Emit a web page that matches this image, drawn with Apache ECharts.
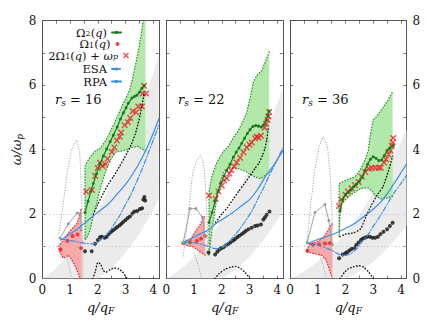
<!DOCTYPE html>
<html><head><meta charset="utf-8">
<script src="https://cdn.jsdelivr.net/npm/echarts@6/dist/echarts.min.js"></script>
<style>
html,body{margin:0;padding:0;background:#fff}
#c{width:428px;height:320px}
#c svg text, #c svg tspan{font-family:'DejaVu Serif','Liberation Serif','Noto Serif',serif !important;}
</style>
</head><body><div id="c"></div>
<script>
// ---------- tick labels ----------
const xTickLabels = ['0','1','2','3','4'];
const yTickLabels = ['0','2','4','6','8'];
const panelLabels = ['16','22','36'];
const refLevels = [1, 2];

// ---------- particle-hole continuum band (grey) ----------
const bandQ = [0,0.25,0.5,0.75,1,1.25,1.5,1.75,2,2.25,2.5,2.75,3,3.25,3.5,3.75,4,4.2];
const band16Upper = [0,0.15,0.33,0.55,0.80,1.08,1.40,1.75,2.13,2.54,2.99,3.47,3.99,4.54,5.12,5.74,6.38,6.93];
const band16Lower = [0,0,0,0,0,0,0,0,0,0.15,0.33,0.55,0.80,1.08,1.40,1.75,2.13,2.46];
const band22Upper = [0,0.13,0.28,0.47,0.68,0.92,1.19,1.49,1.81,2.17,2.55,2.96,3.40,3.87,4.36,4.89,5.44,5.90];
const band22Lower = [0,0,0,0,0,0,0,0,0,0.13,0.28,0.47,0.68,0.92,1.19,1.49,1.81,2.09];
const band36Upper = [0,0.10,0.22,0.37,0.53,0.72,0.93,1.16,1.42,1.69,1.99,2.31,2.66,3.02,3.41,3.82,4.25,4.61];
const band36Lower = [0,0,0,0,0,0,0,0,0,0.10,0.22,0.37,0.53,0.72,0.93,1.16,1.42,1.64];

// ---------- r_s = 16 ----------
const omega2_16 = [[1.54,2.05],[1.65,2.4],[1.75,2.7],[1.84,2.95],[1.95,3.25],[2.08,3.57],[2.2,3.8],[2.32,4.02],[2.45,4.25],[2.56,4.45],[2.7,4.7],[2.82,4.95],[2.92,5.14],[3.02,5.3],[3.1,5.44],[3.23,5.6],[3.32,5.65],[3.41,5.69],[3.5,5.78],[3.59,5.9],[3.67,5.98]];
const omega1_16 = [[0.66,0.9],[0.91,1.17],[1.09,1.32],[1.27,1.37],[1.4,0.95]];
const twoOmega1_16 = [[1.58,2.7],[1.79,2.75],[1.91,3.18],[2.0,3.43],[2.08,3.59],[2.17,3.49],[2.27,3.55],[2.35,3.72],[2.51,3.93],[2.6,4.07],[2.69,4.28],[2.79,4.4],[2.84,4.53],[2.97,4.76],[3.09,4.85],[3.17,4.98],[3.26,5.19],[3.38,5.16],[3.46,5.34],[3.59,5.34],[3.62,5.74],[3.74,5.74],[3.67,5.98]];
const green16Upper = [[1.54,3.5],[1.72,3.77],[1.9,3.95],[2.1,4.05],[2.3,4.3],[2.5,4.65],[2.69,5.0],[2.9,5.4],[3.05,5.65],[3.17,5.9],[3.3,6.4],[3.45,7.0],[3.55,7.5],[3.64,8.0],[3.72,8.0]];
const green16Lower = [[1.54,1.2],[1.62,1.3],[1.72,1.5],[1.84,1.95],[1.95,2.3],[2.08,2.76],[2.27,3.3],[2.45,3.67],[2.63,3.92],[2.8,3.95],[2.99,3.98],[3.23,4.07],[3.45,4.1],[3.6,4.02],[3.72,3.95]];
const red16Upper = [[0.59,0.95],[0.6,1.03],[0.76,1.19],[0.94,1.42],[1.12,1.59],[1.26,1.72],[1.34,1.95],[1.4,2.17],[1.42,2.2]];
const red16Lower = [[0.59,0.95],[0.64,0.8],[0.76,0.63],[0.94,0.73],[1.06,0.58],[1.22,0.33],[1.36,0.02],[1.42,0]];
const blackDots_16 = [[1.54,0.85],[1.78,0.85],[1.9,1.08],[2.0,1.2],[2.08,1.28],[2.15,1.3],[2.25,1.27],[2.32,1.3],[2.4,1.38],[2.48,1.45],[2.55,1.5],[2.63,1.55],[2.7,1.6],[2.78,1.65],[2.85,1.7],[2.92,1.76],[3.0,1.82],[3.08,1.88],[3.16,1.93],[3.25,2.02],[3.32,2.08],[3.42,2.1],[3.52,2.16],[3.6,2.18],[3.64,2.45],[3.71,2.42],[3.68,2.53]];
const blackDottedA_16 = [[1.84,2.0],[2.0,2.3],[2.2,2.65],[2.4,2.95],[2.56,3.16],[2.8,3.5],[3.04,3.87],[3.2,4.15],[3.35,4.48],[3.45,4.8],[3.53,5.09],[3.6,5.4],[3.67,5.74]];
const blackDottedB_16 = [[1.82,0],[1.92,0.25],[2.0,0.5],[2.1,0.45],[2.2,0.25],[2.3,0.2],[2.45,0.28],[2.6,0.33],[2.75,0.3],[2.9,0.2],[3.05,0]];
const greyDottedA_16 = [[0.6,1.4],[0.75,2.3],[0.9,3.3],[1.05,4.0],[1.24,4.3],[1.35,3.9],[1.4,3.0],[1.43,2.0],[1.45,1.0],[1.47,0]];
const greyDottedB_16 = [[0.88,0.75],[0.97,0.35],[1.06,0]];
const greySolid_16 = [[0.64,1.26],[0.94,1.7],[1.26,2.03],[1.38,2.0],[1.4,1.5]];
const rpa_16 = [[0.66,1.19],[0.9,1.33],[1.2,1.5],[1.5,1.7],[1.8,1.92],[2.1,2.12],[2.4,2.33],[2.7,2.62],[3.0,2.92],[3.3,3.3],[3.6,3.75],[3.9,4.3],[4.2,4.95]];
const esa_16 = [[0.66,1.22],[0.9,1.2],[1.2,1.15],[1.5,1.1],[1.8,1.08],[2.0,1.13],[2.2,1.28],[2.4,1.45],[2.6,1.7],[2.8,1.97],[3.0,2.3],[3.2,2.62],[3.4,3.0],[3.6,3.4],[3.8,3.85],[4.0,4.3],[4.2,4.75]];

// ---------- r_s = 22 ----------
const omega2_22 = [[1.54,1.74],[1.65,2.05],[1.76,2.4],[1.87,2.7],[1.97,2.96],[2.08,3.18],[2.18,3.36],[2.3,3.55],[2.42,3.77],[2.52,3.92],[2.62,4.05],[2.72,4.2],[2.82,4.35],[2.92,4.5],[3.02,4.62],[3.12,4.72],[3.22,4.75],[3.32,4.73],[3.42,4.7],[3.52,4.78],[3.6,4.92],[3.66,5.07],[3.7,5.2]];
const omega1_22 = [[0.61,1.1],[0.86,1.13],[1.1,1.17],[1.25,1.24],[1.4,1.32]];
const twoOmega1_22 = [[1.54,2.58],[1.78,2.48],[1.88,2.7],[2.0,2.88],[2.08,3.04],[2.18,3.11],[2.27,3.26],[2.34,3.36],[2.45,3.48],[2.54,3.6],[2.66,3.75],[2.78,3.92],[2.9,4.07],[3.0,4.15],[3.08,4.22],[3.2,4.35],[3.26,4.4],[3.32,4.38],[3.41,4.43],[3.54,4.68],[3.6,4.8],[3.65,4.93],[3.68,5.03],[3.71,5.17]];
const green22Upper = [[1.54,2.7],[1.65,3.2],[1.82,3.6],[2.06,3.95],[2.24,4.1],[2.42,4.38],[2.6,4.6],[2.75,4.85],[2.9,5.15],[3.02,5.6],[3.14,6.1],[3.26,6.3],[3.44,6.45],[3.56,6.7],[3.71,7.03]];
const green22Lower = [[1.54,0.73],[1.6,1.2],[1.7,1.8],[1.8,2.4],[1.94,3.0],[2.1,3.35],[2.3,3.45],[2.55,3.42],[2.8,3.35],[3.0,3.25],[3.2,3.15],[3.4,3.1],[3.55,3.2],[3.71,3.3]];
const red22Upper = [[0.59,1.13],[0.74,1.17],[0.86,1.19],[1.07,1.49],[1.22,1.67],[1.34,1.9],[1.4,1.95]];
const red22Lower = [[0.59,1.13],[0.74,1.03],[0.98,0.98],[1.22,0.83],[1.4,0.73]];
const blackDots_22 = [[1.52,0.81],[1.76,0.75],[1.84,0.83],[1.91,0.9],[1.98,0.94],[2.06,0.97],[2.15,1.03],[2.24,1.08],[2.32,1.13],[2.42,1.18],[2.48,1.23],[2.56,1.28],[2.63,1.33],[2.72,1.38],[2.8,1.43],[2.87,1.48],[2.96,1.53],[3.08,1.58],[3.2,1.63],[3.29,1.65],[3.41,1.68],[3.5,1.83],[3.56,1.9],[3.62,1.98],[3.72,2.08]];
const blackDottedA_22 = [[1.78,1.75],[2.0,2.0],[2.2,2.2],[2.4,2.45],[2.6,2.7],[2.8,2.93],[3.0,3.17],[3.2,3.42],[3.35,3.6],[3.48,3.85],[3.56,4.05],[3.62,4.3],[3.68,4.7]];
const blackDottedB_22 = [[1.75,0],[1.9,0.15],[2.1,0.28],[2.3,0.35],[2.5,0.38],[2.7,0.3],[2.85,0.18],[3.0,0.02]];
const greyDottedA_22 = [[0.61,0.7],[0.7,1.3],[0.8,2.05],[0.95,3.26],[1.1,3.67],[1.22,3.82],[1.34,3.62],[1.42,2.8],[1.47,1.8],[1.5,1.0]];
const greyDottedB_22 = [[1.0,0.8],[1.15,0.4],[1.28,0]];
const greySolid_22 = [[0.61,1.13],[0.86,2.17],[1.07,2.17],[1.3,1.9],[1.4,1.3]];
const rpa_22 = [[0.61,1.13],[0.9,1.25],[1.2,1.38],[1.5,1.5],[1.8,1.72],[2.1,1.88],[2.4,2.05],[2.7,2.25],[3.0,2.45],[3.3,2.78],[3.6,3.2],[3.9,3.55],[4.2,3.97]];
const esa_22 = [[0.61,1.13],[0.9,1.12],[1.2,1.08],[1.5,1.0],[1.7,0.94],[1.9,0.93],[2.1,1.02],[2.3,1.18],[2.5,1.38],[2.7,1.6],[2.9,1.85],[3.1,2.12],[3.3,2.47],[3.5,2.8],[3.7,3.18],[3.9,3.52],[4.2,4.05]];

// ---------- r_s = 36 ----------
const omega2_36 = [[1.8,2.1],[1.9,2.45],[2.0,2.6],[2.1,2.68],[2.2,2.75],[2.3,2.85],[2.4,2.93],[2.5,3.02],[2.6,3.15],[2.7,3.35],[2.8,3.55],[2.9,3.7],[3.0,3.78],[3.1,3.73],[3.2,3.66],[3.3,3.68],[3.4,3.82],[3.5,3.97],[3.6,4.05],[3.72,4.12]];
const omega1_36 = [[0.63,0.86],[0.83,1.06],[1.05,1.06],[1.26,1.09],[1.44,1.1]];
const twoOmega1_36 = [[1.77,2.25],[1.85,2.45],[2.0,2.6],[2.09,2.7],[2.22,2.8],[2.34,2.9],[2.47,3.0],[2.59,3.16],[2.71,3.31],[2.84,3.41],[2.95,3.43],[3.07,3.44],[3.19,3.44],[3.27,3.44],[3.39,3.6],[3.46,3.7],[3.55,3.85],[3.63,3.97],[3.67,4.12],[3.7,4.22],[3.72,4.36]];
const green36Upper = [[1.77,2.95],[2.04,3.06],[2.34,3.16],[2.52,3.36],[2.7,3.67],[2.82,3.97],[2.88,4.38],[3.0,4.93],[3.12,5.03],[3.3,5.24],[3.54,5.54],[3.7,5.8]];
const green36Lower = [[1.77,1.3],[1.8,1.9],[1.85,2.3],[2.0,2.45],[2.2,2.6],[2.4,2.72],[2.6,2.8],[2.8,2.82],[2.95,2.72],[3.1,2.55],[3.3,2.47],[3.5,2.5],[3.7,2.55]];
const red36Upper = [[0.59,0.88],[0.72,1.08],[0.96,1.13],[1.19,1.26],[1.37,1.49],[1.49,1.69],[1.53,1.7]];
const red36Lower = [[0.59,0.88],[0.63,0.83],[0.83,0.78],[1.13,0.73],[1.31,0.58],[1.44,0.22],[1.53,0]];
const blackDots_36 = [[1.77,0.63],[1.9,0.75],[2.0,0.79],[2.06,0.82],[2.14,0.87],[2.22,0.92],[2.32,0.96],[2.39,1.04],[2.47,1.12],[2.56,1.2],[2.62,1.24],[2.7,1.27],[2.78,1.3],[2.88,1.3],[2.97,1.27],[3.07,1.27],[3.17,1.3],[3.26,1.38],[3.37,1.45],[3.5,1.53],[3.6,1.63],[3.7,1.73]];
const blackDottedA_36 = [[1.8,1.3],[2.0,1.38],[2.3,1.42],[2.55,1.55],[2.75,1.95],[2.95,2.3],[3.15,2.6],[3.35,2.85],[3.55,3.35],[3.7,3.8]];
const blackDottedB_36 = [[1.8,0],[1.95,0.18],[2.1,0.3],[2.3,0.37],[2.5,0.4],[2.65,0.36],[2.82,0.22],[3.0,0]];
const greyDottedA_36 = [[0.62,1.2],[0.75,2.3],[0.9,3.4],[1.05,4.1],[1.2,4.4],[1.35,4.1],[1.45,3.2],[1.5,2.2],[1.53,1.5]];
const greyDottedB_36 = [[1.05,0.8],[1.2,0.4],[1.32,0]];
const greySolid_36 = [[0.62,1.13],[0.9,2.05],[1.26,2.3],[1.4,1.8],[1.53,1.05]];
const rpa_36 = [[0.62,1.08],[0.9,1.18],[1.2,1.27],[1.5,1.36],[1.8,1.47],[2.1,1.6],[2.4,1.75],[2.7,1.95],[3.0,2.15],[3.3,2.4],[3.6,2.75],[3.9,3.15],[4.2,3.55]];
const esa_36 = [[0.62,1.1],[0.9,1.05],[1.2,0.98],[1.5,0.88],[1.75,0.76],[2.0,0.72],[2.2,0.78],[2.4,0.92],[2.6,1.15],[2.8,1.35],[3.0,1.62],[3.2,1.88],[3.4,2.15],[3.6,2.45],[3.8,2.72],[4.0,2.95],[4.2,3.2]];

// ---------- build chart ----------
const FONT = 'DejaVu Serif';
const C = {
  band:'#ebebeb', greenFill:'#b2e8aa', greenEdge:'#2f8f2f', greenLine:'#1b7a1b',
  redFill:'#f6a9a9', redEdge:'#e8242a', red:'#ee1c24', blue:'#3a8ee8',
  black:'#111', greyDot:'#aaaaaa', greySolid:'#9a9a9a', axis:'#555', ref:'#bbbbbb'
};
const GRID_LEFT = [42.3, 166.3, 290];
const GRID_TOP = 20.7, GRID_W = 116.5, GRID_H = 263.3;

const panels = [
  {bandU:band16Upper, bandL:band16Lower, o2:omega2_16, o1:omega1_16, x2:twoOmega1_16, gU:green16Upper, gL:green16Lower, rU:red16Upper, rL:red16Lower, bd:blackDots_16, dA:blackDottedA_16, dB:blackDottedB_16, gdA:greyDottedA_16, gdB:greyDottedB_16, gs:greySolid_16, rpa:rpa_16, esa:esa_16},
  {bandU:band22Upper, bandL:band22Lower, o2:omega2_22, o1:omega1_22, x2:twoOmega1_22, gU:green22Upper, gL:green22Lower, rU:red22Upper, rL:red22Lower, bd:blackDots_22, dA:blackDottedA_22, dB:blackDottedB_22, gdA:greyDottedA_22, gdB:greyDottedB_22, gs:greySolid_22, rpa:rpa_22, esa:esa_22},
  {bandU:band36Upper, bandL:band36Lower, o2:omega2_36, o1:omega1_36, x2:twoOmega1_36, gU:green36Upper, gL:green36Lower, rU:red36Upper, rL:red36Lower, bd:blackDots_36, dA:blackDottedA_36, dB:blackDottedB_36, gdA:greyDottedA_36, gdB:greyDottedB_36, gs:greySolid_36, rpa:rpa_36, esa:esa_36}
];

function richSet(size, lh, sub, subLh) {
  const base = {fontFamily:FONT, fontWeight:'normal', color:'#111'};
  return {
    n:Object.assign({}, base, {fontSize:size, lineHeight:lh}),
    i:Object.assign({}, base, {fontSize:size, fontStyle:'italic', lineHeight:lh}),
    s:Object.assign({}, base, {fontSize:sub, verticalAlign:'bottom', lineHeight:subLh}),
    si:Object.assign({}, base, {fontSize:sub, fontStyle:'italic', verticalAlign:'bottom', lineHeight:subLh})
  };
}
const RICH = richSet(13, 16, 9, 8);
const RICH_LEG = richSet(11.5, 10.5, 8, 3);
const legendText = {
  'Ω2':'{n|Ω}{s|2}{n|(}{i|q}{n|)}',
  'Ω1':'{n|Ω}{s|1}{n|(}{i|q}{n|)}',
  '2Ω1+ωp':'{n|2Ω}{s|1}{n|(}{i|q}{n|) + }{i|ω}{si|p}',
  'ESA':'{n|ESA}',
  'RPA':'{n|RPA}'
};
const XSYM = 'path://M1.5,0L5,3.5L8.5,0L10,1.5L6.5,5L10,8.5L8.5,10L5,6.5L1.5,10L0,8.5L3.5,5L0,1.5Z';

function fmt(list){ return function(v){ const s = String(Math.round(v*100)/100); return list.indexOf(s) >= 0 ? s : ''; }; }

function polygonSeries(i, upper, lower, fill, stroke) {
  return {
    type:'custom', xAxisIndex:2*i, yAxisIndex:2*i, silent:true, clip:true,
    data:[[0,0]],
    renderItem:function(params, api){
      const poly = upper.concat(lower.slice().reverse()).map(p => api.coord(p));
      const ch = [{type:'polygon', shape:{points:poly}, style:{fill:fill}}];
      if (stroke) {
        const edge = lower.slice().reverse().concat(upper).map(p => api.coord(p));
        ch.push({type:'polyline', shape:{points:edge}, style:{stroke:stroke, fill:'none', lineWidth:1.3, lineDash:[0.5,2.4], lineCap:'round'}});
      }
      return {type:'group', children:ch};
    }
  };
}
function lineS(i, name, data, color, width, type, extra) {
  return Object.assign({
    type:'line', name:name, xAxisIndex:2*i, yAxisIndex:2*i, data:data, symbol:'none', showSymbol:false,
    silent:true, lineStyle:{color:color, width:width, type:type, cap:'round'}, itemStyle:{color:color}
  }, extra || {});
}

const xAxes = [], yAxes = [], grids = [], series = [], titles = [];
const tickFont = {fontFamily:FONT, fontSize:12, color:'#111'};
for (let i = 0; i < 3; i++) {
  grids.push({left:GRID_LEFT[i], top:GRID_TOP, width:GRID_W, height:GRID_H});
  const axLine = {show:true, onZero:false, lineStyle:{color:C.axis, width:1}};
  const tick = {show:true, inside:true, length:3, lineStyle:{color:C.axis, width:0.8}};
  xAxes.push({gridIndex:i, type:'value', min:0, max:4.2, interval:0.5, position:'bottom',
    axisLine:axLine, axisTick:tick, splitLine:{show:false},
    axisLabel:Object.assign({formatter:fmt(xTickLabels), margin:5}, tickFont),
    name:'{i|q/q}{si|F}', nameLocation:'middle', nameGap:14, nameTextStyle:{fontFamily:FONT, rich:RICH}});
  xAxes.push({gridIndex:i, type:'value', min:0, max:4.2, interval:0.5, position:'top',
    axisLine:axLine, axisTick:tick, splitLine:{show:false}, axisLabel:{show:false}});
  yAxes.push(Object.assign({gridIndex:i, type:'value', min:0, max:8, interval:1, position:'left',
    axisLine:axLine, axisTick:tick, splitLine:{show:false},
    axisLabel:Object.assign({show:i===0, formatter:fmt(yTickLabels), margin:6}, tickFont)},
    i===0 ? {name:'{i|ω/ω}{si|p}', nameLocation:'middle', nameRotate:90, nameGap:11, nameTextStyle:{fontFamily:FONT, rich:RICH}} : {}));
  yAxes.push({gridIndex:i, type:'value', min:0, max:8, interval:1, position:'right',
    axisLine:axLine, axisTick:tick, splitLine:{show:false},
    axisLabel:Object.assign({show:i===2, formatter:fmt(yTickLabels), margin:6}, tickFont)});

  const P = panels[i];
  const bandU = bandQ.map((q,k) => [q, P.bandU[k]]);
  const bandL = bandQ.map((q,k) => [q, P.bandL[k]]);
  series.push(polygonSeries(i, bandU, bandL, C.band, null));
  series.push(lineS(i, 'ref'+i, P.gdA, C.greyDot, 1, [0.5,2.2], {
    markLine:{silent:true, symbol:'none', label:{show:false},
      lineStyle:{color:C.ref, width:1, type:[1,2.5]},
      data:refLevels.map(v => ({yAxis:v}))}
  }));
  series.push(lineS(i, 'gd'+i, P.gdB, C.greyDot, 1, [0.5,2.2]));
  series.push(lineS(i, 'gs'+i, P.gs, C.greySolid, 0.9, 'solid', {symbol:'circle', showSymbol:true, symbolSize:3}));
  series.push(polygonSeries(i, P.rU, P.rL, C.redFill, C.redEdge));
  series.push(polygonSeries(i, P.gU, P.gL, C.greenFill, C.greenEdge));
  series.push(lineS(i, 'RPA', P.rpa, C.blue, 1.2, 'solid', {smooth:0.3}));
  series.push(lineS(i, 'ESA', P.esa, C.blue, 1.2, [5,2,1,2], {smooth:0.3}));
  series.push(lineS(i, 'bdA'+i, P.dA, C.black, 1.4, [0.5,2.6], {smooth:0.2}));
  series.push(lineS(i, 'bdB'+i, P.dB, C.black, 1.4, [0.5,2.6], {smooth:0.2}));
  series.push({type:'scatter', name:'bk'+i, xAxisIndex:2*i, yAxisIndex:2*i, data:P.bd, symbol:'circle', symbolSize:4, itemStyle:{color:C.black}, silent:true});
  series.push({type:'scatter', name:'Ω1', xAxisIndex:2*i, yAxisIndex:2*i, data:P.o1, symbol:'circle', symbolSize:4, itemStyle:{color:C.red}, silent:true});
  series.push(lineS(i, 'Ω2', P.o2, C.greenLine, 1.2, 'solid', {symbol:'circle', showSymbol:true, symbolSize:3}));
  series.push({type:'scatter', name:'2Ω1+ωp', xAxisIndex:2*i, yAxisIndex:2*i, data:P.x2, symbol:XSYM, symbolSize:6.5, itemStyle:{color:C.red}, silent:true});

  titles.push({text:'{i|r}{si|s}{n| = ' + panelLabels[i] + '}', left:[55,178,302][i], top:91, padding:0,
    textStyle:{fontWeight:'normal', fontFamily:FONT, rich:RICH}});
}

function leg(name, right, top, w, h) {
  return {data:[name], right:right, top:top, orient:'horizontal', align:'right', padding:0, itemGap:0,
    itemWidth:w, itemHeight:h, selectedMode:false,
    formatter:function(n){ return legendText[n]; }, textStyle:{fontFamily:FONT, rich:RICH_LEG}};
}

const option = {
  animation:false,
  backgroundColor:'#fff',
  textStyle:{fontFamily:FONT},
  title:titles,
  grid:grids, xAxis:xAxes, yAxis:yAxes, series:series,
  legend:[
    leg('Ω2', 306, 26.5, 9, 4),
    leg('Ω1', 308.5, 38, 4, 4),
    leg('2Ω1+ωp', 299, 49.5, 6, 6),
    leg('ESA', 306, 63, 9, 4),
    leg('RPA', 306, 75.5, 9, 4)
  ]
};
const chart = echarts.init(document.getElementById('c'), null, {renderer:'svg'});
chart.setOption(option);
</script></body></html>
